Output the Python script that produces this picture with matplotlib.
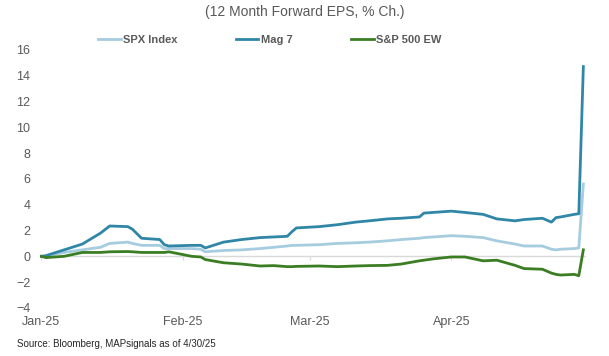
import numpy as np
import pandas as pd
import matplotlib
matplotlib.use("Agg")
import matplotlib.pyplot as plt
import matplotlib.dates as mdates

plt.rcParams['font.family'] = ['Liberation Sans', 'DejaVu Sans']

# dates (2025)
dates = ["01-01", "01-02", "01-06", "01-10", "01-14", "01-16", "01-20", "01-21",
         "01-23", "01-27", "01-28", "01-29", "02-03", "02-05", "02-06", "02-10",
         "02-14", "02-18", "02-21", "02-24", "02-25", "02-26", "03-03", "03-07",
         "03-11", "03-14", "03-18", "03-21", "03-25", "03-26", "03-28", "04-01",
         "04-04", "04-08", "04-11", "04-15", "04-17", "04-21", "04-23", "04-24",
         "04-25", "04-28", "04-29", "04-30"]

mag7 = [0, 0.05, 0.5, 0.95, 1.8, 2.35, 2.3, 2.1,
        1.4, 1.3, 0.9, 0.8, 0.85, 0.85, 0.65, 1.1,
        1.3, 1.45, 1.5, 1.55, 1.9, 2.2, 2.3, 2.45,
        2.65, 2.75, 2.9, 2.95, 3.05, 3.35, 3.4, 3.5,
        3.4, 3.25, 2.9, 2.75, 2.85, 2.95, 2.65, 3.0,
        3.05, 3.25, 3.3, 14.7]

spx = [0, 0.0, 0.3, 0.5, 0.7, 1.0, 1.1, 1.0,
       0.85, 0.85, 0.6, 0.6, 0.6, 0.55, 0.35, 0.45,
       0.5, 0.6, 0.7, 0.8, 0.85, 0.85, 0.9, 1.0,
       1.05, 1.1, 1.2, 1.3, 1.4, 1.45, 1.5, 1.6,
       1.55, 1.45, 1.2, 0.95, 0.8, 0.8, 0.55, 0.5,
       0.55, 0.6, 0.65, 5.6]

ew = [0, -0.1, 0.0, 0.3, 0.3, 0.35, 0.37, 0.35,
      0.3, 0.3, 0.3, 0.35, 0.0, -0.05, -0.25, -0.5,
      -0.6, -0.75, -0.72, -0.8, -0.8, -0.78, -0.75, -0.8,
      -0.75, -0.72, -0.7, -0.6, -0.35, -0.3, -0.2, -0.05,
      -0.05, -0.35, -0.3, -0.7, -0.95, -1.0, -1.3, -1.4,
      -1.45, -1.4, -1.5, 0.5]

names = ["SPX Index", "Mag 7", "S&P 500 EW"]
colors = ["#A6CCDF", "#2F86A6", "#3B7D23"]

x = pd.to_datetime(["2025-" + d for d in dates])

fig = plt.figure(figsize=(6.09, 3.56), dpi=100)
ax = fig.add_axes([0.066, 0.135, 0.895, 0.725])

for vals, name, c in zip([spx, mag7, ew], names, colors):
    ax.plot(x, vals, color=c, lw=2.0, label=name, zorder=3)

ax.set_ylim(-4, 16)
ax.set_yticks(range(-4, 17, 2))
ax.set_xlim(pd.Timestamp("2024-12-31 18:00"), pd.Timestamp("2025-04-30 10:00"))

# zero line acts as the x axis, labels sit at the bottom
for s in ["top", "right", "left"]:
    ax.spines[s].set_visible(False)
ax.spines["bottom"].set_position(("data", 0))
ax.spines["bottom"].set_color("#D9D9D9")
ax.spines["bottom"].set_linewidth(1.0)
ax.xaxis.set_major_locator(mdates.MonthLocator())
ax.tick_params(axis="x", direction="out", length=3, color="#D9D9D9", labelbottom=False)
ax.tick_params(axis="y", length=0, labelsize=9, labelcolor="#595959", pad=7)

sec = ax.secondary_xaxis("bottom")
sec.xaxis.set_major_locator(mdates.MonthLocator())
sec.xaxis.set_major_formatter(mdates.DateFormatter("%b-%y"))
sec.spines["bottom"].set_visible(False)
sec.tick_params(length=0, labelsize=9, labelcolor="#595959", pad=6)

fig.text(0.5, 0.965, "(12 Month Forward EPS, % Ch.)", ha="center", va="center",
         fontsize=10, color="#595959")

fig.legend(loc="center", bbox_to_anchor=(0.443, 0.888), ncol=3, frameon=False,
           handlelength=2.0, handletextpad=0.2, columnspacing=5.3,
           prop={"weight": "bold", "size": 8}, labelcolor="#595959")

fig.text(0.028, 0.033, "Source: Bloomberg, MAPsignals as of 4/30/25", ha="left",
         va="center", fontsize=7, color="#262626")

fig.savefig("out.png", dpi=100)
